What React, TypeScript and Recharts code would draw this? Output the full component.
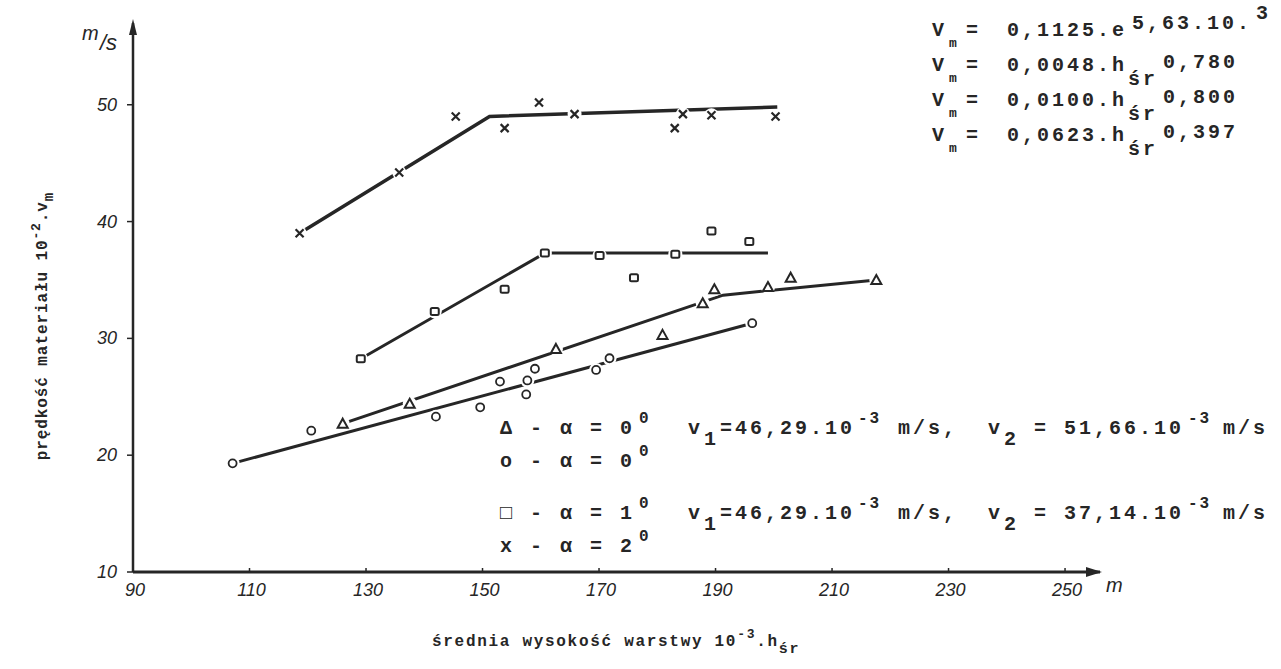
import React from 'react';
import { ComposedChart, Line, Scatter, XAxis, YAxis } from 'recharts';

const xTicks = [90, 110, 130, 150, 170, 190, 210, 230, 250];
const yTicks = [10, 20, 30, 40, 50];

// alpha = 2° (x markers)
const crossPts = [
  { x: 118.6, y: 39.0 }, { x: 135.7, y: 44.2 }, { x: 145.4, y: 49.0 }, { x: 153.8, y: 48.0 },
  { x: 159.7, y: 50.2 }, { x: 165.8, y: 49.2 }, { x: 183.0, y: 48.0 }, { x: 184.4, y: 49.2 },
  { x: 189.3, y: 49.1 }, { x: 200.3, y: 49.0 },
];
const crossLine = [{ x: 118.6, y: 39.0 }, { x: 151.2, y: 49.0 }, { x: 200.6, y: 49.8 }];

// alpha = 1° (squares)
const squarePts = [
  { x: 129.1, y: 28.25 }, { x: 141.8, y: 32.3 }, { x: 153.8, y: 34.2 }, { x: 160.7, y: 37.3 },
  { x: 170.1, y: 37.1 }, { x: 176.0, y: 35.2 }, { x: 183.1, y: 37.2 }, { x: 189.3, y: 39.2 },
  { x: 195.8, y: 38.3 },
];
const squareLine = [{ x: 129.1, y: 28.25 }, { x: 160.7, y: 37.3 }, { x: 199.0, y: 37.3 }];

// alpha = 0° (triangles)
const trianglePts = [
  { x: 126.0, y: 22.7 }, { x: 137.5, y: 24.4 }, { x: 162.6, y: 29.1 }, { x: 180.9, y: 30.3 },
  { x: 187.8, y: 33.0 }, { x: 189.8, y: 34.2 }, { x: 199.0, y: 34.4 }, { x: 202.9, y: 35.2 },
  { x: 217.6, y: 35.0 },
];
const triangleLine = [{ x: 126.0, y: 22.7 }, { x: 191.3, y: 33.7 }, { x: 217.6, y: 35.0 }];

// alpha = 0° (circles)
const circlePts = [
  { x: 107.1, y: 19.3 }, { x: 120.6, y: 22.1 }, { x: 142.0, y: 23.3 }, { x: 149.6, y: 24.1 },
  { x: 153.0, y: 26.3 }, { x: 157.5, y: 25.2 }, { x: 157.7, y: 26.4 }, { x: 159.0, y: 27.4 },
  { x: 169.5, y: 27.3 }, { x: 171.8, y: 28.3 }, { x: 196.3, y: 31.3 },
];
const circleLine = [{ x: 107.1, y: 19.3 }, { x: 196.3, y: 31.3 }];

const INK = '#262626';
const MONO = '"Liberation Mono", "DejaVu Sans Mono", monospace';
const SANS = '"Liberation Sans", Arial, sans-serif';

const W = 1280;
const H = 668;
const PLOT_L = 133;
const PLOT_T = 23;
const PLOT_R = 1100;
const PLOT_B = 572;

const Halo = ({ cx, cy }: any) => <circle cx={cx} cy={cy} r={7} fill="#ffffff" />;

const CrossShape = (p: any) => (
  <g>
    <Halo cx={p.cx} cy={p.cy} />
    <path d={`M${p.cx - 4},${p.cy - 4}L${p.cx + 4},${p.cy + 4}M${p.cx + 4},${p.cy - 4}L${p.cx - 4},${p.cy + 4}`} stroke={INK} strokeWidth={2.2} />
  </g>
);
const SquareShape = (p: any) => (
  <g>
    <Halo cx={p.cx} cy={p.cy} />
    <rect x={p.cx - 4} y={p.cy - 3.5} width={8} height={7} rx={1.5} fill="none" stroke={INK} strokeWidth={2} />
  </g>
);
const TriangleShape = (p: any) => (
  <g>
    <Halo cx={p.cx} cy={p.cy} />
    <path d={`M${p.cx},${p.cy - 5}L${p.cx + 5},${p.cy + 4}L${p.cx - 5},${p.cy + 4}Z`} fill="none" stroke={INK} strokeWidth={2} />
  </g>
);
const CircleShape = (p: any) => (
  <g>
    <Halo cx={p.cx} cy={p.cy} />
    <circle cx={p.cx} cy={p.cy} r={4} fill="none" stroke={INK} strokeWidth={1.8} />
  </g>
);

const XTick = (p: any) => {
  const { x, y, payload } = p;
  return (
    <g>
      {payload.value !== 90 && <line x1={x} y1={y} x2={x} y2={y - 4} stroke={INK} strokeWidth={1.5} />}
      <text x={x + 2} y={y + 24} textAnchor="middle" fontFamily={SANS} fontStyle="italic" fontSize={18} fill={INK}>
        {payload.value}
      </text>
    </g>
  );
};

const YTick = (p: any) => {
  const { x, y, payload } = p;
  return (
    <text x={x} y={y + 6} textAnchor="end" fontFamily={SANS} fontStyle="italic" fontSize={18} fill={INK}>
      {payload.value}
    </text>
  );
};

const textBase = { fontFamily: MONO, fontSize: 20, letterSpacing: 3, fontWeight: 'bold', fill: INK } as const;

const Formula = ({ B, body, sub, exp, expX, expDy, extra }: any) => (
  <text {...textBase}>
    <tspan x={932} y={B}>V</tspan>
    <tspan x={949} y={B + 11} fontSize={13} letterSpacing={0}>m</tspan>
    <tspan x={966} y={B}>=</tspan>
    <tspan x={1007} y={B}>{body}</tspan>
    {sub && <tspan x={1128} y={B + 14}>{sub}</tspan>}
    <tspan x={expX} y={B + expDy}>{exp}</tspan>
    {extra && <tspan x={1256} y={B - 17}>{extra}</tspan>}
  </text>
);

const LegendRow = ({ B, glyph, angle, v2 }: any) => (
  <text {...textBase}>
    <tspan x={500} y={B}>{glyph} - α = {angle}</tspan>
    <tspan x={639} y={B - 11} fontSize={16} letterSpacing={2}>0</tspan>
    {v2 && <tspan x={688} y={B}>v</tspan>}
    {v2 && <tspan x={704} y={B + 11}>1</tspan>}
    {v2 && <tspan x={720} y={B}>=46,29.10</tspan>}
    {v2 && <tspan x={858} y={B - 11} fontSize={16} letterSpacing={2}>-3</tspan>}
    {v2 && <tspan x={898} y={B}>m/s,</tspan>}
    {v2 && <tspan x={988} y={B}>v</tspan>}
    {v2 && <tspan x={1004} y={B + 11}>2</tspan>}
    {v2 && <tspan x={1034} y={B}>= {v2}</tspan>}
    {v2 && <tspan x={1188} y={B - 11} fontSize={16} letterSpacing={2}>-3</tspan>}
    {v2 && <tspan x={1223} y={B}>m/s</tspan>}
  </text>
);

export default function App() {
  return (
    <div style={{ position: 'absolute', left: 0, top: 0, width: W, height: H, background: '#ffffff' }}>
      <ComposedChart
        width={W}
        height={H}
        margin={{ top: PLOT_T, right: W - PLOT_R, bottom: H - PLOT_B - 30, left: PLOT_L - 60 }}
      >
        <XAxis
          dataKey="x"
          type="number"
          domain={[90, 256]}
          ticks={xTicks}
          allowDataOverflow
          height={30}
          tickSize={0}
          tickMargin={0}
          tickLine={false}
          tick={<XTick />}
          axisLine={{ stroke: INK, strokeWidth: 3 }}
        />
        <YAxis
          dataKey="y"
          type="number"
          domain={[10, 57]}
          ticks={yTicks}
          allowDataOverflow
          width={60}
          tickSize={6}
          tickMargin={10}
          tickLine={{ stroke: INK, strokeWidth: 1.5 }}
          tick={<YTick />}
          axisLine={{ stroke: INK, strokeWidth: 2.5 }}
        />
        <Line data={crossLine} dataKey="y" type="linear" stroke={INK} strokeWidth={3.5} dot={false} isAnimationActive={false} />
        <Line data={squareLine} dataKey="y" type="linear" stroke={INK} strokeWidth={3} dot={false} isAnimationActive={false} />
        <Line data={triangleLine} dataKey="y" type="linear" stroke={INK} strokeWidth={3} dot={false} isAnimationActive={false} />
        <Line data={circleLine} dataKey="y" type="linear" stroke={INK} strokeWidth={3} dot={false} isAnimationActive={false} />
        <Scatter data={crossPts} shape={CrossShape} isAnimationActive={false} />
        <Scatter data={squarePts} shape={SquareShape} isAnimationActive={false} />
        <Scatter data={trianglePts} shape={TriangleShape} isAnimationActive={false} />
        <Scatter data={circlePts} shape={CircleShape} isAnimationActive={false} />
      </ComposedChart>
      <svg width={W} height={H} style={{ position: 'absolute', left: 0, top: 0, pointerEvents: 'none' }}>
        {/* axis arrows */}
        <path d={`M${PLOT_R - 14},${PLOT_B - 5}L${PLOT_R + 2},${PLOT_B}L${PLOT_R - 14},${PLOT_B + 5}Z`} fill={INK} />
        <path d={`M${PLOT_L - 4},${PLOT_T + 12}L${PLOT_L},${PLOT_T - 4}L${PLOT_L + 4},${PLOT_T + 12}Z`} fill={INK} />
        {/* units */}
        <text fontFamily={SANS} fontStyle="italic" fill={INK}>
          <tspan x={82} y={40} fontSize={20}>m</tspan>
          <tspan x={100} y={50} fontSize={22}>/s</tspan>
        </text>
        <text x={1106} y={592} fontFamily={SANS} fontStyle="italic" fontSize={20} fill={INK}>m</text>
        {/* y axis title */}
        <text
          transform="translate(47,326) rotate(-90)"
          textAnchor="middle"
          fontFamily={MONO}
          fontSize={16}
          letterSpacing={0.9}
          fontWeight="bold"
          fill={INK}
        >
          <tspan>prędkość materiału 10</tspan>
          <tspan dy={-7} fontSize={13}>-2</tspan>
          <tspan dy={7}>.v</tspan>
          <tspan dy={6} fontSize={14}>m</tspan>
        </text>
        {/* x axis title */}
        <text x={432} y={646} fontFamily={MONO} fontSize={16} letterSpacing={1.7} fontWeight="bold" fill={INK}>
          <tspan>średnia wysokość warstwy 10</tspan>
          <tspan dy={-8} fontSize={13}>-3</tspan>
          <tspan dy={8}>.h</tspan>
          <tspan dy={7} fontSize={15}>śr</tspan>
        </text>
        {/* formulas */}
        <Formula B={36} body="0,1125.e" exp="5,63.10." expX={1132} expDy={-7} extra="3" />
        <Formula B={71} body="0,0048.h" sub="śr" exp="0,780" expX={1163} expDy={-3} />
        <Formula B={106} body="0,0100.h" sub="śr" exp="0,800" expX={1163} expDy={-3} />
        <Formula B={141} body="0,0623.h" sub="śr" exp="0,397" expX={1163} expDy={-3} />
        {/* legend */}
        <LegendRow B={434} glyph="Δ" angle="0" v2="51,66.10" />
        <LegendRow B={467} glyph="o" angle="0" />
        <LegendRow B={519} glyph="□" angle="1" v2="37,14.10" />
        <LegendRow B={552} glyph="x" angle="2" />
      </svg>
    </div>
  );
}
